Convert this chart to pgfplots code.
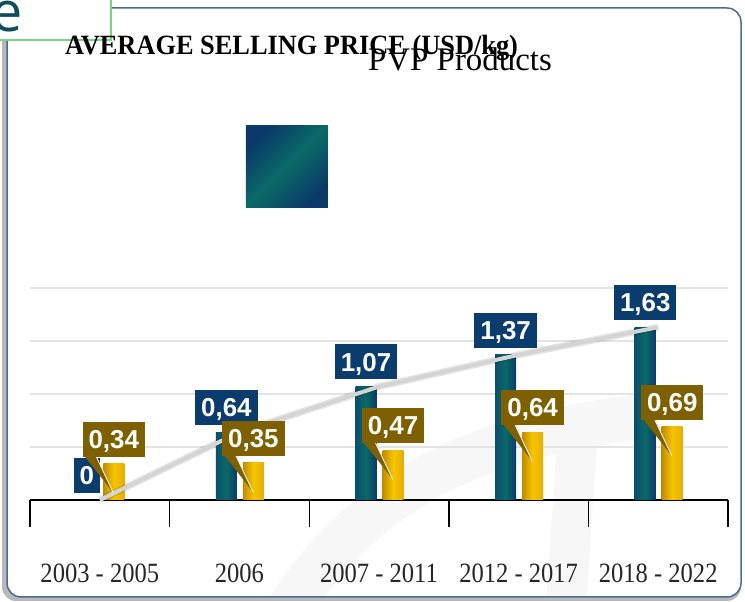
\documentclass[border=0pt]{standalone}
\usepackage{pgfplots}
\pgfplotsset{compat=1.18}
\usepackage{fontspec}
\setmainfont{Liberation Serif}
\setsansfont{Liberation Sans}
\newfontfamily\efont{Open Sans}
\definecolor{navyLbl}{HTML}{0B3C6E}
\definecolor{goldLbl}{HTML}{7F6000}
\definecolor{tealA}{HTML}{0A4E70}
\definecolor{tealB}{HTML}{0A6A66}
\definecolor{tealC}{HTML}{0B3A6A}
\definecolor{goldA}{HTML}{C08C00}
\definecolor{goldB}{HTML}{F7C400}
\definecolor{goldC}{HTML}{E5AE00}
\definecolor{lineGray}{HTML}{D4D4D4}
\definecolor{gridGray}{HTML}{E3E3E3}
\definecolor{frameBlue}{HTML}{4A6C96}
\definecolor{boxGreen}{HTML}{74D67E}
\definecolor{eTeal}{HTML}{0E4E5C}
\definecolor{wm}{HTML}{F7F7F7}
\pgfplotsset{
  tealbar/.style={ybar, bar width=21bp, bar shift=-13bp, draw=none, left color=tealA, right color=tealC, middle color=tealB},
  goldbar/.style={ybar, bar width=21bp, bar shift=14bp, draw=none, left color=goldA, right color=goldC, middle color=goldB, forget plot},
}
\begin{document}
\begin{tikzpicture}[x=1bp,y=1bp]
\useasboundingbox (0,0) rectangle (745,602);
\clip (0,0) rectangle (745,602);
% frame shadow and fill
\fill[gray!55, rounded corners=14bp] (2,1) rectangle (741,594);
\fill[white, rounded corners=14bp] (7,5) rectangle (741,594);
% faint watermark
\begin{scope}
\clip[rounded corners=14bp] (7,5) rectangle (741,594);
\draw[wm, line width=45bp] (280,-20) .. controls (360,110) and (470,165) .. (640,185);
\draw[wm, line width=40bp] (565,-20) -- (578,175);
\end{scope}
\draw[frameBlue, line width=1.5bp, rounded corners=14bp] (7,5) rectangle (741,594);
% green box
\draw[boxGreen, line width=2.5bp, fill=white] (-5,562) rectangle (111,607);
\node[anchor=base west, inner sep=0, text=eTeal, font=\efont\fontsize{56}{60}\selectfont] at (-9,570) {e};
% titles
\node[anchor=base west, inner sep=0, font=\fontsize{28}{30}\selectfont\bfseries, xscale=0.945] at (65,547) {AVERAGE SELLING PRICE (USD/kg)};
\node[anchor=base west, inner sep=0, font=\fontsize{33}{36}\selectfont] at (368,531) {PVP Products};
\begin{axis}[
  at={(30bp,102bp)}, anchor=south west,
  scale only axis, width=698bp, height=212bp,
  xmin=-0.5, xmax=4.5, ymin=0, ymax=2,
  clip=false,
  axis x line*=bottom, axis y line*=left,
  x axis line style={black, line width=1.4bp},
  y axis line style={draw=none},
  xtick={-0.5,0.5,1.5,2.5,3.5,4.5},
  x tick label as interval,
  xticklabels={{2003 - 2005},{2006},{2007 - 2011},{2012 - 2017},{2018 - 2022}},
  xtick style={black, line width=1.4bp},
  major tick length=27bp,
  tick align=outside,
  xticklabel style={font=\fontsize{28}{30}\selectfont, xscale=0.88, text=black!85, yshift=-33bp},
  ytick={0.5,1,1.5,2},
  yticklabels={},
  ytick style={draw=none},
  ymajorgrids,
  grid style={gridGray, line width=1.5bp},
  /pgf/number format/.cd, use comma, fixed, precision=2, assume math mode=true, /pgfplots/.cd,
  legend style={at={(0.309,1.571)}, anchor=west, draw=none, fill=none, inner sep=0pt, nodes={inner sep=0pt}},
]
% teal bars (one plot per bar so that each bar gets its own shading)
\addplot[tealbar, legend image code/.code={\shade[left color=tealC, right color=tealC, middle color=tealB, shading angle=45] (0bp,-41bp) rectangle (82bp,41bp);}]
  coordinates {(0,0)};
\addlegendentry{}
\addplot[tealbar, forget plot] coordinates {(1,0.64)};
\addplot[tealbar, forget plot] coordinates {(2,1.07)};
\addplot[tealbar, forget plot] coordinates {(3,1.37)};
\addplot[tealbar, forget plot] coordinates {(4,1.63)};
% gold bars
\addplot[goldbar] coordinates {(0,0.34)};
\addplot[goldbar] coordinates {(1,0.35)};
\addplot[goldbar] coordinates {(2,0.47)};
\addplot[goldbar] coordinates {(3,0.64)};
\addplot[goldbar] coordinates {(4,0.69)};
% trend line
\addplot[black, opacity=0.10, line width=7bp, forget plot]
  coordinates {(0,0) (1,0.64) (2,1.07) (3,1.37) (4,1.63)};
\addplot[lineGray, line width=4bp, forget plot]
  coordinates {(0,0) (1,0.64) (2,1.07) (3,1.37) (4,1.63)};
% labels
\addplot[ybar, bar width=21bp, bar shift=-13bp, draw=none, fill=none, forget plot,
  nodes near coords,
  nodes near coords style={fill=navyLbl, text=white, font=\sffamily\bfseries\fontsize{26}{28}\selectfont,
    inner xsep=6bp, inner ysep=0bp, text height=18.5bp, text depth=0bp, minimum height=35bp,
    anchor=south, yshift=7bp, xshift=-13bp}]
  coordinates {(0,0) (1,0.64) (2,1.07) (3,1.37) (4,1.63)};
\addplot[ybar, bar width=21bp, bar shift=14bp, draw=none, fill=none, forget plot,
  nodes near coords,
  nodes near coords style={fill=goldLbl, text=white, font=\sffamily\bfseries\fontsize{26}{28}\selectfont,
    inner xsep=6bp, inner ysep=0bp, text height=18.5bp, text depth=0bp, minimum height=35bp,
    anchor=south, yshift=7bp, xshift=14bp,
    append after command={\pgfextra{\fill[goldLbl] ([xshift=2bp,yshift=1bp]\tikzlastnode.south west) -- ([xshift=14bp,yshift=1bp]\tikzlastnode.south west) -- ([xshift=31bp,yshift=-36bp]\tikzlastnode.south west) -- cycle; \draw[white, line width=0.8bp] ([xshift=14bp]\tikzlastnode.south west) -- ([xshift=31bp,yshift=-36bp]\tikzlastnode.south west);}}}]
  coordinates {(0,0.34) (1,0.35) (2,0.47) (3,0.64) (4,0.69)};
\end{axis}
\end{tikzpicture}
\end{document}
